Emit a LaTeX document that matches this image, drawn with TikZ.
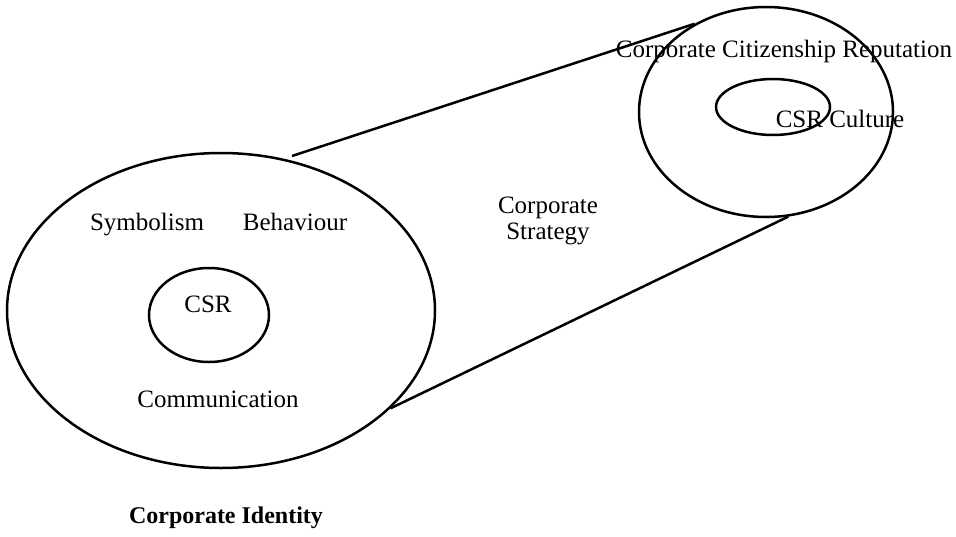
\documentclass[tikz,border=0pt]{standalone}
\usepackage{fontspec}
\setmainfont{Liberation Serif}
\usetikzlibrary{shapes.geometric}
\tikzset{
  ring/.style={draw, ellipse, line width=2.5pt, inner sep=0pt},
  lbl/.style={font=\fontsize{25}{26}\selectfont, inner sep=0pt},
  link/.style={line width=2.5pt},
}
\begin{document}
\begin{tikzpicture}[x=1pt,y=-1pt]
    \useasboundingbox (0,0) rectangle (956,536);
    \node[ring, minimum width=428pt, minimum height=315pt] (identity) at (221,310.5) {};
    \node[ring, minimum width=120pt, minimum height=94pt] (csr) at (209,315) {};
    \node[ring, minimum width=254pt, minimum height=210pt] (reputation) at (766,112) {};
    \node[ring, minimum width=114pt, minimum height=56pt] (culture) at (773,107) {};
    \coordinate (upper) at (292,156);
    \draw[link] (upper) -- (reputation.129.5);
    \draw[link] (identity.-30.9) -- (reputation.-78);
    \node[lbl, anchor=base] (symbolism) at (147,230) {Symbolism};
    \node[lbl, anchor=base] (behaviour) at (295,230) {Behaviour};
    \node[lbl, anchor=base] (csrtext) at (208,312) {CSR};
    \node[lbl, anchor=base] (communication) at (218,407) {Communication};
    \node[lbl, align=center] (strategy) at (548,221) {Corporate\\Strategy};
    \node[lbl, anchor=base] (reptext) at (784,57) {Corporate Citizenship Reputation};
    \node[lbl, anchor=base] (culttext) at (840,127) {CSR Culture};
    \node[inner sep=0pt, anchor=base, font=\bfseries\fontsize{24}{26}\selectfont] (idtext) at (226,523) {Corporate Identity};
\end{tikzpicture}
\end{document}
